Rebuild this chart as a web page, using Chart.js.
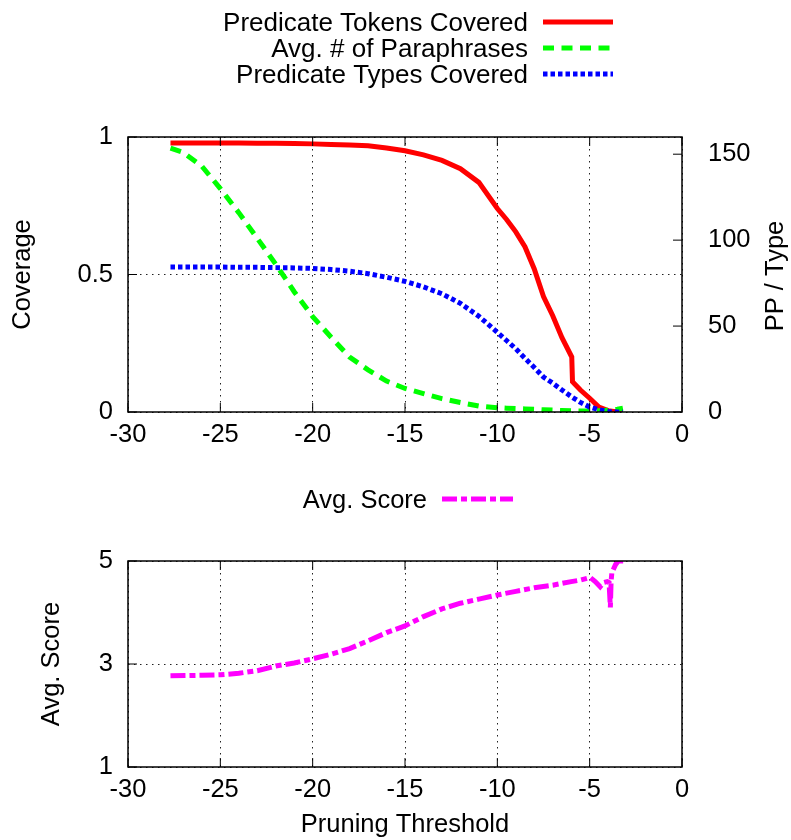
<!DOCTYPE html>
<html>
<head>
<meta charset="utf-8">
<title>Pruning threshold</title>
<script src="https://cdn.jsdelivr.net/npm/chart.js@4.4.1/dist/chart.umd.min.js"></script>
<style>
  html, body { margin: 0; padding: 0; background: #fff; }
  #wrap { position: relative; width: 791px; height: 840px; }
  canvas { position: absolute; left: 0; }
  #coverage-chart { top: 0; }
  #score-chart { top: 460px; }
</style>
</head>
<body>
<div id="wrap">
  <canvas id="coverage-chart" width="791" height="460"></canvas>
  <canvas id="score-chart" width="791" height="380"></canvas>
</div>
<script>
// top panel: pruning threshold -> coverage / paraphrases per type
const thresholds = [-27.7, -27, -26, -25, -24, -23, -22, -21, -20, -19, -18, -17, -16, -15, -14, -13, -12, -11, -10,
  -9.5, -9, -8.5, -8, -7.5, -7, -6.5, -5.97, -5.93, -5.5, -5, -4.5, -4, -3.5, -3.2];
const tokensCovered = [0.978, 0.978, 0.978, 0.978, 0.978, 0.977, 0.977, 0.976, 0.975, 0.973, 0.971, 0.968, 0.96, 0.95,
  0.935, 0.915, 0.885, 0.835, 0.74, 0.7, 0.655, 0.6, 0.52, 0.42, 0.35, 0.27, 0.2, 0.11, 0.08, 0.05, 0.018, 0.005, 0, 0];
const avgParaphrases = [153.5, 151, 143, 130, 116, 101, 86, 70, 55.5, 43.5, 32, 24.5, 18, 13.7, 10.7, 7.8, 5.5, 3.5, 2.5,
  2.2, 2, 1.8, 1.6, 1.3, 1.1, 0.9, 0.7, 0.7, 0.6, 0.6, 0.8, 1, 1.6, 2.2];
const typesCovered = [0.527, 0.527, 0.527, 0.527, 0.526, 0.526, 0.525, 0.524, 0.522, 0.518, 0.512, 0.503, 0.49, 0.475,
  0.455, 0.43, 0.395, 0.348, 0.29, 0.26, 0.23, 0.195, 0.162, 0.127, 0.105, 0.08, 0.055, 0.053, 0.035, 0.018, 0.008,
  0.002, 0, 0];

// bottom panel: pruning threshold -> average score
const scoreThresholds = [-27.7, -26, -25, -24, -23, -22, -21, -20, -19, -18, -17, -16, -15, -14, -13, -12, -11, -10,
  -9, -8, -7, -6, -5.5, -4.97, -4.7, -4.43, -4.25, -4.05, -3.95, -3.88, -3.84, -3.8, -3.6, -3.45, -3.1];
const avgScore = [2.77, 2.78, 2.79, 2.82, 2.87, 2.96, 3.02, 3.1, 3.19, 3.3, 3.45, 3.61, 3.74, 3.92, 4.07, 4.18, 4.26,
  4.34, 4.41, 4.48, 4.53, 4.6, 4.63, 4.68, 4.6, 4.5, 4.58, 4.6, 4.58, 4.1, 4.6, 4.77, 4.93, 5.0, 5.0];

const FONT = "'Liberation Sans', Arial, Helvetica, sans-serif";
Chart.defaults.font.family = FONT;
Chart.defaults.font.size = 25.5;
Chart.defaults.color = "#000";

const points = (xs, ys) => xs.map((x, i) => ({ x, y: ys[i] }));
const plainLabel = (value) => String(value);

// gnuplot-like key: text right aligned, line sample to its right
const keyPlugin = {
  id: "gnuKey",
  afterDraw(chart, args, opts) {
    const { ctx } = chart;
    ctx.save();
    ctx.font = `${opts.fontSize}px ${FONT}`;
    ctx.fillStyle = "#000";
    ctx.textAlign = "right";
    ctx.textBaseline = "alphabetic";
    chart.data.datasets.forEach((ds, i) => {
      const base = opts.baseline + i * opts.rowHeight;
      const mid = base - 9;
      ctx.fillText(ds.label, opts.textRight, base);
      ctx.beginPath();
      ctx.lineWidth = ds.borderWidth;
      ctx.strokeStyle = ds.borderColor;
      ctx.setLineDash(ds.borderDash || []);
      ctx.moveTo(opts.sampleLeft, mid);
      ctx.lineTo(opts.sampleRight, mid);
      ctx.stroke();
    });
    ctx.setLineDash([]);
    if (opts.rightTitle) {
      ctx.font = `25.5px ${FONT}`;
      ctx.translate(opts.rightTitle.x, opts.rightTitle.y);
      ctx.rotate(-Math.PI / 2);
      ctx.textAlign = "center";
      ctx.textBaseline = "middle";
      ctx.fillText(opts.rightTitle.text, 0, 0);
    }
    ctx.restore();
  },
};

// border box plus inward tick marks
const framePlugin = {
  id: "frame",
  afterDraw(chart) {
    const { ctx, chartArea: a, scales } = chart;
    const len = 9;
    ctx.save();
    ctx.strokeStyle = "#000";
    ctx.lineWidth = 1.5;
    ctx.strokeRect(a.left, a.top, a.right - a.left, a.bottom - a.top);
    ctx.lineWidth = 1;
    ctx.beginPath();
    scales.x.ticks.forEach((t) => {
      const px = scales.x.getPixelForValue(t.value);
      ctx.moveTo(px, a.bottom);
      ctx.lineTo(px, a.bottom - len);
      ctx.moveTo(px, a.top);
      ctx.lineTo(px, a.top + len);
    });
    scales.y.ticks.forEach((t) => {
      const py = scales.y.getPixelForValue(t.value);
      ctx.moveTo(a.left, py);
      ctx.lineTo(a.left + len, py);
    });
    if (scales.y2) {
      scales.y2.ticks.forEach((t) => {
        const py = scales.y2.getPixelForValue(t.value);
        ctx.moveTo(a.right, py);
        ctx.lineTo(a.right - len, py);
      });
    }
    ctx.stroke();
    ctx.restore();
  },
};

const gridStyle = { drawTicks: false, color: "#222", lineWidth: 1 };
const gridBorder = { display: false, dash: [1.5, 4.5] };

function xAxis(height, title) {
  return {
    type: "linear",
    min: -30,
    max: 0,
    ticks: { stepSize: 5, padding: 8, callback: plainLabel },
    grid: gridStyle,
    border: gridBorder,
    title: title ? { display: true, text: title, padding: { top: 0, bottom: 0 } } : { display: false },
    afterFit: (s) => { s.height = height; },
  };
}

function line(label, xs, ys, color, dash, axis, order) {
  return {
    label,
    data: points(xs, ys),
    borderColor: color,
    backgroundColor: color,
    borderWidth: 5,
    borderDash: dash,
    borderCapStyle: "butt",
    pointRadius: 0,
    tension: 0,
    fill: false,
    yAxisID: axis,
    order,
  };
}

new Chart(document.getElementById("coverage-chart"), {
  type: "line",
  data: {
    datasets: [
      line("Predicate Tokens Covered", thresholds, tokensCovered, "#ff0000", [], "y", 2),
      line("Avg. # of Paraphrases", thresholds, avgParaphrases, "#00ff00", [11, 7.5], "y2", 1),
      line("Predicate Types Covered", thresholds, typesCovered, "#0000ff", [4.5, 3], "y", 0),
    ],
  },
  options: {
    responsive: false,
    animation: false,
    layout: { padding: { top: 137, right: 0, bottom: 0, left: 0 } },
    plugins: {
      legend: { display: false },
      tooltip: { enabled: false },
      gnuKey: {
        fontSize: 26, textRight: 528, sampleLeft: 543, sampleRight: 613, baseline: 31, rowHeight: 26,
        rightTitle: { text: "PP / Type", x: 776, y: 276 },
      },
    },
    scales: {
      x: xAxis(48),
      y: {
        position: "left",
        min: 0,
        max: 1,
        ticks: { stepSize: 0.5, padding: 15, callback: plainLabel },
        grid: gridStyle,
        border: gridBorder,
        title: { display: true, text: "Coverage", padding: { top: 8, bottom: 0 } },
        afterFit: (s) => { s.width = 128; },
      },
      y2: {
        position: "right",
        min: 0,
        max: 160,
        ticks: { stepSize: 50, includeBounds: false, padding: 18, callback: plainLabel },
        grid: { display: false },
        border: { display: false },
        afterFit: (s) => { s.width = 109; },
      },
    },
  },
  plugins: [framePlugin, keyPlugin],
});

new Chart(document.getElementById("score-chart"), {
  type: "line",
  data: {
    datasets: [
      line("Avg. Score", scoreThresholds, avgScore, "#ff00ff", [15, 4, 6, 4], "y", 0),
    ],
  },
  options: {
    responsive: false,
    animation: false,
    layout: { padding: { top: 101, right: 109, bottom: 0, left: 0 } },
    plugins: {
      legend: { display: false },
      tooltip: { enabled: false },
      gnuKey: { fontSize: 25.5, textRight: 427, sampleLeft: 442, sampleRight: 513, baseline: 48, rowHeight: 26 },
    },
    scales: {
      x: xAxis(73, "Pruning Threshold"),
      y: {
        position: "left",
        min: 1,
        max: 5,
        ticks: { stepSize: 2, padding: 15, callback: plainLabel },
        grid: gridStyle,
        border: gridBorder,
        title: { display: true, text: "Avg. Score", padding: { top: 37, bottom: 0 } },
        afterFit: (s) => { s.width = 128; },
      },
    },
  },
  plugins: [framePlugin, keyPlugin],
});
</script>
</body>
</html>
